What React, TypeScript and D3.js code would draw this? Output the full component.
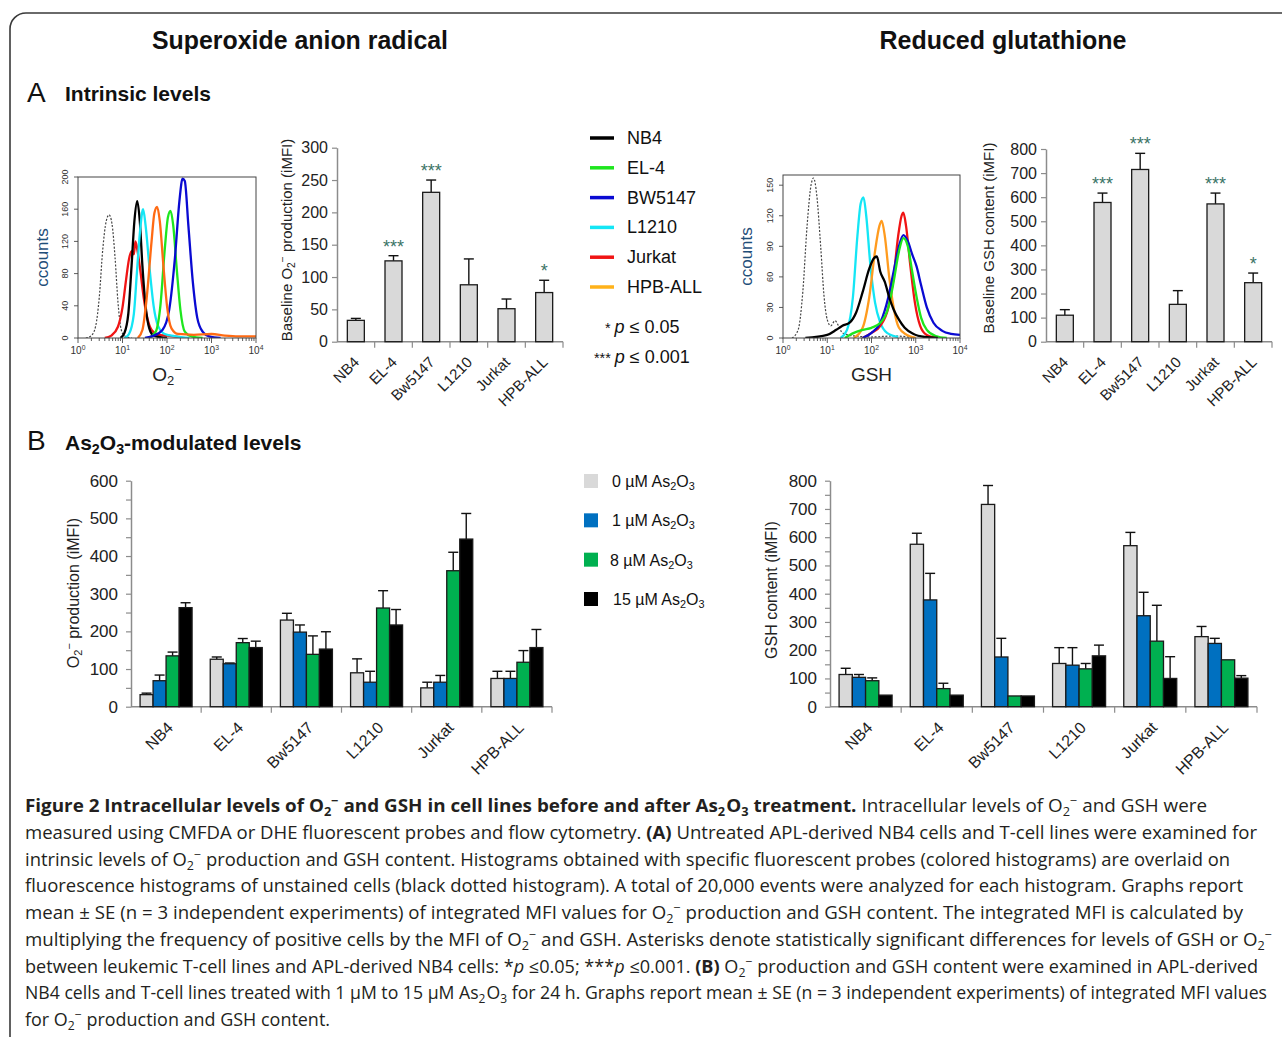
import React, { useEffect, useRef } from "react";
import * as d3 from "d3";

// ---- data ----
const cellLines = ["NB4", "EL-4", "Bw5147", "L1210", "Jurkat", "HPB-ALL"];
const legendLines = ["NB4", "EL-4", "BW5147", "L1210", "Jurkat", "HPB-ALL"];
const lineColors = ["#000000", "#1ee61e", "#0a0ad2", "#14e6f5", "#f01414", "#ffb21a"];

const baseO2 = [33, 125, 231, 88, 51, 76];
const baseO2Se = [3, 8, 19, 40, 15, 19];
const baseO2Stars = ["", "***", "***", "", "", "*"];
const baseGsh = [110, 578, 715, 155, 572, 245];
const baseGshSe = [23, 39, 67, 57, 45, 40];
const baseGshStars = ["", "***", "***", "", "***", "*"];

const doses = ["0", "1", "8", "15"];
const doseColors = ["#d9d9d9", "#0070c0", "#00b050", "#000000"];
const o2Dose = [
  [32, 126, 230, 90, 50, 75],
  [69, 114, 198, 65, 65, 75],
  [135, 170, 139, 262, 361, 118],
  [263, 157, 153, 217, 445, 157],
];
const o2DoseSe = [
  [4, 6, 18, 37, 15, 19],
  [15, 2, 19, 29, 18, 19],
  [10, 11, 49, 46, 49, 31],
  [13, 17, 46, 41, 68, 48],
];
const gshDose = [
  [114, 575, 716, 153, 570, 248],
  [104, 378, 176, 147, 322, 224],
  [92, 64, 38, 134, 232, 166],
  [41, 41, 38, 180, 100, 101],
];
const gshDoseSe = [
  [22, 39, 67, 56, 47, 36],
  [10, 94, 66, 62, 83, 18],
  [10, 19, 0, 19, 127, 0],
  [0, 0, 0, 38, 77, 9],
];

// histogram overlays: [fluorescence, counts]
const o2Unstained = [[1.5, 0], [2.0, 3], [2.5, 15], [3.0, 50], [3.6, 110], [4.3, 145], [5.0, 153], [5.8, 142], [6.8, 100], [7.9, 45], [9.0, 15], [10.5, 4], [13, 1], [16, 0]];
const o2Nb4 = [[9, 0], [11, 6], [13.5, 30], [16, 90], [18.5, 145], [21.4, 170], [24.5, 145], [28, 90], [33, 40], [40, 12], [50, 3], [70, 1], [100, 0]];
const o2Jurkat = [[4, 0], [5.6, 3], [7.9, 14], [10, 38], [12, 72], [14, 98], [16, 108], [18, 104], [19.5, 120], [21.5, 110], [25, 85], [30, 50], [36, 25], [45, 10], [63, 4], [100, 3], [200, 1]];
const o2L1210 = [[11, 0], [14, 5], [18, 30], [21, 80], [25, 135], [29, 160], [33, 140], [40, 90], [50, 40], [63, 15], [89, 5], [160, 2], [320, 0]];
const o2Hpb = [[22, 0], [28, 10], [35, 50], [45, 120], [52, 155], [60, 163], [69, 145], [83, 90], [100, 40], [126, 12], [178, 5], [400, 4], [1000, 5], [2000, 3], [4000, 2], [10000, 2]];
const o2El4 = [[40, 0], [56, 8], [71, 40], [89, 110], [105, 150], [120, 158], [138, 140], [166, 85], [200, 35], [251, 8], [355, 2], [630, 0]];
const o2Bw = [[32, 0], [50, 3], [79, 10], [112, 35], [151, 100], [190, 170], [224, 198], [251, 195], [302, 140], [380, 70], [479, 25], [630, 8], [890, 2], [1600, 0]];

const gshUnstained = [[1.6, 0], [2.2, 8], [2.8, 45], [3.5, 110], [4.3, 150], [4.9, 157], [5.8, 140], [7.1, 90], [8.5, 40], [10, 18], [12, 12], [15, 17], [18, 12], [22, 5], [40, 2], [100, 1], [316, 2], [1000, 0]];
const gshL1210 = [[20, 0], [28, 8], [38, 40], [48, 100], [57, 132], [66, 138], [76, 120], [95, 70], [120, 35], [158, 15], [224, 5], [400, 1]];
const gshHpb = [[40, 0], [63, 10], [89, 40], [120, 85], [151, 110], [170, 115], [200, 100], [251, 60], [316, 30], [417, 10], [630, 3], [1000, 0]];
const gshNb4 = [[3.2, 0], [10, 3], [16, 8], [22, 12], [32, 15], [45, 25], [63, 45], [89, 68], [112, 78], [132, 80], [158, 65], [200, 55], [251, 40], [316, 28], [417, 18], [562, 10], [891, 4], [1585, 1], [3162, 0]];
const gshJurkat = [[63, 0], [100, 5], [158, 12], [240, 30], [316, 60], [400, 100], [479, 120], [525, 123], [603, 110], [759, 70], [955, 35], [1259, 12], [1778, 3], [3162, 0]];
const gshEl4 = [[25, 0], [40, 5], [63, 8], [100, 10], [158, 15], [240, 30], [316, 55], [417, 85], [525, 98], [661, 90], [832, 65], [1047, 40], [1318, 20], [1778, 8], [2818, 2], [5012, 0]];
const gshBw = [[63, 0], [100, 5], [158, 15], [240, 40], [316, 65], [417, 90], [525, 101], [661, 95], [832, 82], [1047, 70], [1318, 52], [1778, 30], [2512, 15], [3981, 7], [6310, 4], [10000, 3]];

// rich text segments: flags b=bold i=italic d=subscript u=superscript s=small g=gap before
type Seg = [string, string?];
const O2: Seg[] = [["O"], ["2", "d"], ["\u2212", "u"]];
const captionLines: Seg[][] = [
  [["Figure 2 Intracellular levels of O", "b"], ["2", "bd"], ["\u2212", "bu"], [" and GSH in cell lines before and after As", "b"], ["2", "bd"], ["O", "bg"], ["3", "bd"], [" treatment.", "b"], [" Intracellular levels of O"], ["2", "d"], ["\u2212", "u"], [" and GSH were"]],
  [["measured using CMFDA or DHE fluorescent probes and flow cytometry. "], ["(A)", "b"], [" Untreated APL-derived NB4 cells and T-cell lines were examined for"]],
  [["intrinsic levels of O"], ["2", "d"], ["\u2212", "u"], [" production and GSH content. Histograms obtained with specific fluorescent probes (colored histograms) are overlaid on"]],
  [["fluorescence histograms of unstained cells (black dotted histogram). A total of 20,000 events were analyzed for each histogram. Graphs report"]],
  [["mean \u00b1 SE (n = 3 independent experiments) of integrated MFI values for O"], ["2", "d"], ["\u2212", "u"], [" production and GSH content. The integrated MFI is calculated by"]],
  [["multiplying the frequency of positive cells by the MFI of O"], ["2", "d"], ["\u2212", "u"], [" and GSH. Asterisks denote statistically significant differences for levels of GSH or O"], ["2", "d"], ["\u2212", "u"]],
  [["between leukemic T-cell lines and APL-derived NB4 cells: *"], ["p", "i"], [" \u22640.05; ***"], ["p", "i"], [" \u22640.001. "], ["(B)", "b"], [" O"], ["2", "d"], ["\u2212", "u"], [" production and GSH content were examined in APL-derived"]],
  [["NB4 cells and T-cell lines treated with 1 \u00b5M to 15 \u00b5M As"], ["2", "d"], ["O", "g"], ["3", "d"], [" for 24 h. Graphs report mean \u00b1 SE (n = 3 independent experiments) of integrated MFI values"]],
  [["for O"], ["2", "d"], ["\u2212", "u"], [" production and GSH content."]],
];
const captionEnds = [1207, 1257, 1230, 1243, 1243, 1272, 1258, 1267, 330];

const ARIAL = "'Liberation Sans', Arial, sans-serif";

function rich(parent: any, x: number, y: number, segs: Seg[], size: number) {
  const t = parent.append("text").attr("x", x).attr("y", y).attr("font-size", size);
  segs.forEach(([s, f = ""]) => {
    const ts = t.append("tspan").text(s);
    if (f.includes("b")) ts.attr("font-weight", "bold");
    if (f.includes("i")) ts.attr("font-style", "italic");
    if (f.includes("g")) ts.attr("dx", 1);
    if (f.includes("s")) ts.attr("font-size", size * 0.8);
    if (f.includes("d")) ts.attr("font-size", size * 0.68).attr("baseline-shift", -size * 0.2);
    if (f.includes("u")) ts.attr("font-size", size * 0.68).attr("baseline-shift", size * 0.38);
  });
  return t;
}

function histogram(svg: any, cfg: any) {
  const { x0, x1, yb, yt, yMax, yTicks, curves, label, labelX } = cfg;
  const xs = d3.scaleLog().domain([1, 10000]).range([x0, x1]);
  const ys = d3.scaleLinear().domain([0, yMax]).range([yb, yt]);
  const g = svg.append("g").attr("font-family", ARIAL);
  const clipId = "clip" + Math.round(x0);
  g.append("clipPath").attr("id", clipId).append("rect")
    .attr("x", x0).attr("y", yt - 2).attr("width", x1 - x0).attr("height", yb - yt + 2);

  // minor + major log ticks
  const ticks = xs.ticks();
  g.selectAll("line.xt").data(ticks).join("line")
    .attr("x1", (d: number) => xs(d)).attr("x2", (d: number) => xs(d))
    .attr("y1", yb).attr("y2", (d: number) => yb + (Math.log10(d) % 1 === 0 ? 5 : 3))
    .attr("stroke", "#333").attr("stroke-width", 0.8);
  [0, 1, 2, 3, 4].forEach((k) => {
    rich(g, xs(Math.pow(10, k)), yb + 16, [["10"], [String(k), "u"]], 10)
      .attr("text-anchor", "middle").attr("fill", "#333");
  });
  g.selectAll("line.yt").data(yTicks).join("line")
    .attr("x1", x0 - 4).attr("x2", x0).attr("y1", (d: number) => ys(d)).attr("y2", (d: number) => ys(d))
    .attr("stroke", "#333").attr("stroke-width", 0.8);
  g.selectAll("text.yl").data(yTicks).join("text")
    .attr("transform", (d: number) => `translate(${x0 - 10},${ys(d)}) rotate(-90)`)
    .attr("text-anchor", "middle").attr("font-size", 9).attr("fill", "#333")
    .text((d: number) => d);

  const line = d3.line<number[]>().x((d) => xs(d[0])).y((d) => ys(d[1])).curve(d3.curveMonotoneX);
  const cg = g.append("g").attr("clip-path", `url(#${clipId})`);
  curves.forEach((c: any) => {
    cg.append("path").attr("d", line(c.data)).attr("fill", "none")
      .attr("stroke", c.color).attr("stroke-width", c.dash ? 1.2 : 2.3)
      .attr("stroke-dasharray", c.dash ? "2,1.6" : null).attr("stroke-linejoin", "round");
  });
  g.append("rect").attr("x", x0).attr("y", yt).attr("width", x1 - x0).attr("height", yb - yt)
    .attr("fill", "none").attr("stroke", "#444").attr("stroke-width", 1);

  g.append("text").attr("transform", `translate(${labelX},${(yb + yt) / 2}) rotate(-90)`)
    .attr("dy", "0.35em").attr("text-anchor", "middle").attr("font-size", 17).attr("fill", "#1f4e79")
    .text("ccounts");
  rich(g, (x0 + x1) / 2, yb + 43, label, 19).attr("text-anchor", "middle").attr("fill", "#222");
}

function bars(svg: any, cfg: any) {
  const { x0, x1, yb, yt, max, labelStep, tickStep, series, se, colors, groupW, stars,
    title, titleX, titleY, tickFont, catFont, titleFont, tickPad, catDx } = cfg;
  const x = d3.scaleBand<string>().domain(cellLines).range([x0, x1]);
  const inner = d3.scaleBand<number>().domain(d3.range(series.length)).range([0, groupW]);
  const y = d3.scaleLinear().domain([0, max]).range([yb, yt]);
  const g = svg.append("g").attr("font-family", ARIAL);

  const yAxis = d3.axisLeft(y).tickValues(d3.range(0, max + 1, tickStep)).tickSize(5)
    .tickSizeOuter(0).tickPadding(tickPad)
    .tickFormat((d: any) => (d % labelStep === 0 ? String(d) : ""));
  const ya = g.append("g").attr("transform", `translate(${x0},0)`).call(yAxis);
  ya.select(".domain").attr("stroke", "#8c8c8c").attr("stroke-width", 1.5);
  ya.selectAll(".tick line").attr("stroke", "#8c8c8c").attr("stroke-width", 1.2);
  ya.selectAll(".tick text").attr("font-size", tickFont).attr("fill", "#222").attr("font-family", ARIAL);

  g.append("line").attr("x1", x0).attr("x2", x1).attr("y1", yb).attr("y2", yb)
    .attr("stroke", "#8c8c8c").attr("stroke-width", 1.5);
  g.selectAll("line.xt").data(cellLines).join("line")
    .attr("x1", (d: string) => x(d)! + x.bandwidth()).attr("x2", (d: string) => x(d)! + x.bandwidth())
    .attr("y1", yb).attr("y2", yb + 6).attr("stroke", "#8c8c8c").attr("stroke-width", 1.2);
  g.selectAll("text.cat").data(cellLines).join("text")
    .attr("transform", (d: string) => `translate(${x(d)! + x.bandwidth() / 2 + catDx},${yb + 14}) rotate(-45)`)
    .attr("text-anchor", "end").attr("dy", "0.7em").attr("font-size", catFont).attr("fill", "#222")
    .text((d: string) => d);

  const off = (x.bandwidth() - groupW) / 2;
  series.forEach((vals: number[], s: number) => {
    const bw = inner.bandwidth();
    vals.forEach((v, i) => {
      const bx = x(cellLines[i])! + off + inner(s)!;
      const cx = bx + bw / 2;
      if (se[s][i] > 0) {
        const top = y(v + se[s][i]);
        g.append("line").attr("x1", cx).attr("x2", cx).attr("y1", y(v)).attr("y2", top)
          .attr("stroke", "#111").attr("stroke-width", 1.4);
        g.append("line").attr("x1", cx - 5).attr("x2", cx + 5).attr("y1", top).attr("y2", top)
          .attr("stroke", "#111").attr("stroke-width", 1.4);
      }
      g.append("rect").attr("x", bx).attr("y", y(v)).attr("width", bw).attr("height", yb - y(v))
        .attr("fill", colors[s]).attr("stroke", "#1a1a1a").attr("stroke-width", 1.3);
      if (stars && stars[i]) {
        g.append("text").attr("x", cx).attr("y", y(v + se[s][i]) - 3).attr("text-anchor", "middle")
          .attr("font-size", 18).attr("fill", "#3b7466").text(stars[i]);
      }
    });
  });

  const t = rich(g, 0, 0, title, titleFont).attr("text-anchor", "middle").attr("fill", "#222")
    .attr("transform", `translate(${titleX},${titleY}) rotate(-90)`).attr("x", null).attr("y", null);
  t.attr("dy", "0.35em");
}

function draw(svg: any) {
  svg.append("rect").attr("width", 1282).attr("height", 1037).attr("fill", "#fff");
  svg.append("rect").attr("x", 10).attr("y", 13).attr("width", 1330).attr("height", 1100).attr("rx", 16)
    .attr("fill", "none").attr("stroke", "#3a3a3a").attr("stroke-width", 1.6);

  const head = svg.append("g").attr("font-family", ARIAL).attr("fill", "#111");
  head.append("text").attr("x", 300).attr("y", 49).attr("text-anchor", "middle")
    .attr("font-size", 25).attr("font-weight", "bold").attr("textLength", 296)
    .attr("lengthAdjust", "spacingAndGlyphs").text("Superoxide anion radical");
  head.append("text").attr("x", 1003).attr("y", 49).attr("text-anchor", "middle")
    .attr("font-size", 25).attr("font-weight", "bold").attr("textLength", 247)
    .attr("lengthAdjust", "spacingAndGlyphs").text("Reduced glutathione");
  head.append("text").attr("x", 27).attr("y", 102).attr("font-size", 28).text("A");
  head.append("text").attr("x", 65).attr("y", 101).attr("font-size", 21).attr("font-weight", "bold").text("Intrinsic levels");
  head.append("text").attr("x", 27).attr("y", 450).attr("font-size", 28).text("B");
  rich(head, 65, 450, [["As", "b"], ["2", "bd"], ["O", "b"], ["3", "bd"], ["-modulated levels", "b"]], 21);

  histogram(svg, {
    x0: 78, x1: 256, yb: 338, yt: 177, yMax: 200, yTicks: [0, 40, 80, 120, 160, 200], labelX: 42,
    label: O2,
    curves: [
      { data: o2Unstained, color: "#444", dash: true },
      { data: o2Jurkat, color: lineColors[4] },
      { data: o2Nb4, color: lineColors[0] },
      { data: o2L1210, color: lineColors[3] },
      { data: o2El4, color: lineColors[1] },
      { data: o2Bw, color: lineColors[2] },
      { data: o2Hpb, color: "#ff6a13" },
    ],
  });
  histogram(svg, {
    x0: 783, x1: 960, yb: 338, yt: 175, yMax: 160, yTicks: [0, 30, 60, 90, 120, 150], labelX: 746,
    label: [["GSH"]],
    curves: [
      { data: gshUnstained, color: "#444", dash: true },
      { data: gshL1210, color: lineColors[3] },
      { data: gshHpb, color: "#ff9b1e" },
      { data: gshJurkat, color: lineColors[4] },
      { data: gshBw, color: lineColors[2] },
      { data: gshEl4, color: lineColors[1] },
      { data: gshNb4, color: lineColors[0] },
    ],
  });

  bars(svg, {
    x0: 337, x1: 563, yb: 341.7, yt: 147.7, max: 300, labelStep: 50, tickStep: 50,
    series: [baseO2], se: [baseO2Se], colors: ["#d9d9d9"], groupW: 17, stars: baseO2Stars,
    title: [["Baseline O"], ["2", "d"], ["\u2212", "u"], [" production (iMFI)"]], titleX: 287, titleY: 240,
    tickFont: 16, catFont: 15, titleFont: 15, tickPad: 4, catDx: -3,
  });
  bars(svg, {
    x0: 1046, x1: 1272, yb: 341.7, yt: 149, max: 800, labelStep: 100, tickStep: 100,
    series: [baseGsh], se: [baseGshSe], colors: ["#d9d9d9"], groupW: 17, stars: baseGshStars,
    title: [["Baseline GSH content (iMFI)"]], titleX: 989, titleY: 238,
    tickFont: 16, catFont: 15, titleFont: 15, tickPad: 4, catDx: -3,
  });
  bars(svg, {
    x0: 131, x1: 552, yb: 706.7, yt: 480.7, max: 600, labelStep: 100, tickStep: 50,
    series: o2Dose, se: o2DoseSe, colors: doseColors, groupW: 52,
    title: [["O"], ["2", "d"], ["\u2212", "u"], ["  production (iMFI)"]], titleX: 73, titleY: 593,
    tickFont: 17, catFont: 16, titleFont: 16, tickPad: 8, catDx: 0,
  });
  bars(svg, {
    x0: 830, x1: 1257, yb: 706.7, yt: 480.7, max: 800, labelStep: 100, tickStep: 50,
    series: gshDose, se: gshDoseSe, colors: doseColors, groupW: 53,
    title: [["GSH content (iMFI)"]], titleX: 771, titleY: 590,
    tickFont: 17, catFont: 16, titleFont: 16, tickPad: 8, catDx: 0,
  });

  // line legend
  const lg = svg.append("g").attr("font-family", ARIAL).attr("fill", "#111");
  const ly = d3.scalePoint<string>().domain(legendLines).range([138, 287]);
  legendLines.forEach((name, i) => {
    lg.append("line").attr("x1", 590).attr("x2", 614).attr("y1", ly(name)!).attr("y2", ly(name)!)
      .attr("stroke", lineColors[i]).attr("stroke-width", 3.5);
    lg.append("text").attr("x", 627).attr("y", ly(name)! + 6).attr("font-size", 18).text(name);
  });
  rich(lg, 605, 333, [["* ", "s"], ["p", "i"], [" \u2264  0.05"]], 18);
  rich(lg, 594, 363, [["*** ", "s"], ["p", "i"], [" \u2264  0.001"]], 18);

  // dose legend
  const dy = d3.scalePoint<string>().domain(doses).range([481, 599]);
  doses.forEach((d, i) => {
    lg.append("rect").attr("x", 584).attr("y", dy(d)! - 7).attr("width", 14).attr("height", 14)
      .attr("fill", doseColors[i]);
    rich(lg, d === "15" ? 613 : d === "8" ? 610 : 612, dy(d)! + 6, [[d + " \u00b5M As"], ["2", "d"], ["O"], ["3", "d"]], 16);
  });

  // caption
  const cap = svg.append("g").attr("font-family", "'Open Sans', 'Noto Sans', sans-serif").attr("fill", "#231f20");
  captionLines.forEach((segs, i) => {
    rich(cap, 25, 812 + i * 26.75, segs, 17.5)
      .attr("textLength", captionEnds[i] - 25).attr("lengthAdjust", "spacingAndGlyphs");
  });
}

export default function App() {
  const ref = useRef<SVGSVGElement>(null);
  useEffect(() => {
    const svg = d3.select(ref.current);
    svg.selectAll("*").remove();
    draw(svg);
  }, []);
  return (
    <svg ref={ref} width={1282} height={1037}
      style={{ position: "absolute", left: 0, top: 0, background: "#fff" }} />
  );
}
